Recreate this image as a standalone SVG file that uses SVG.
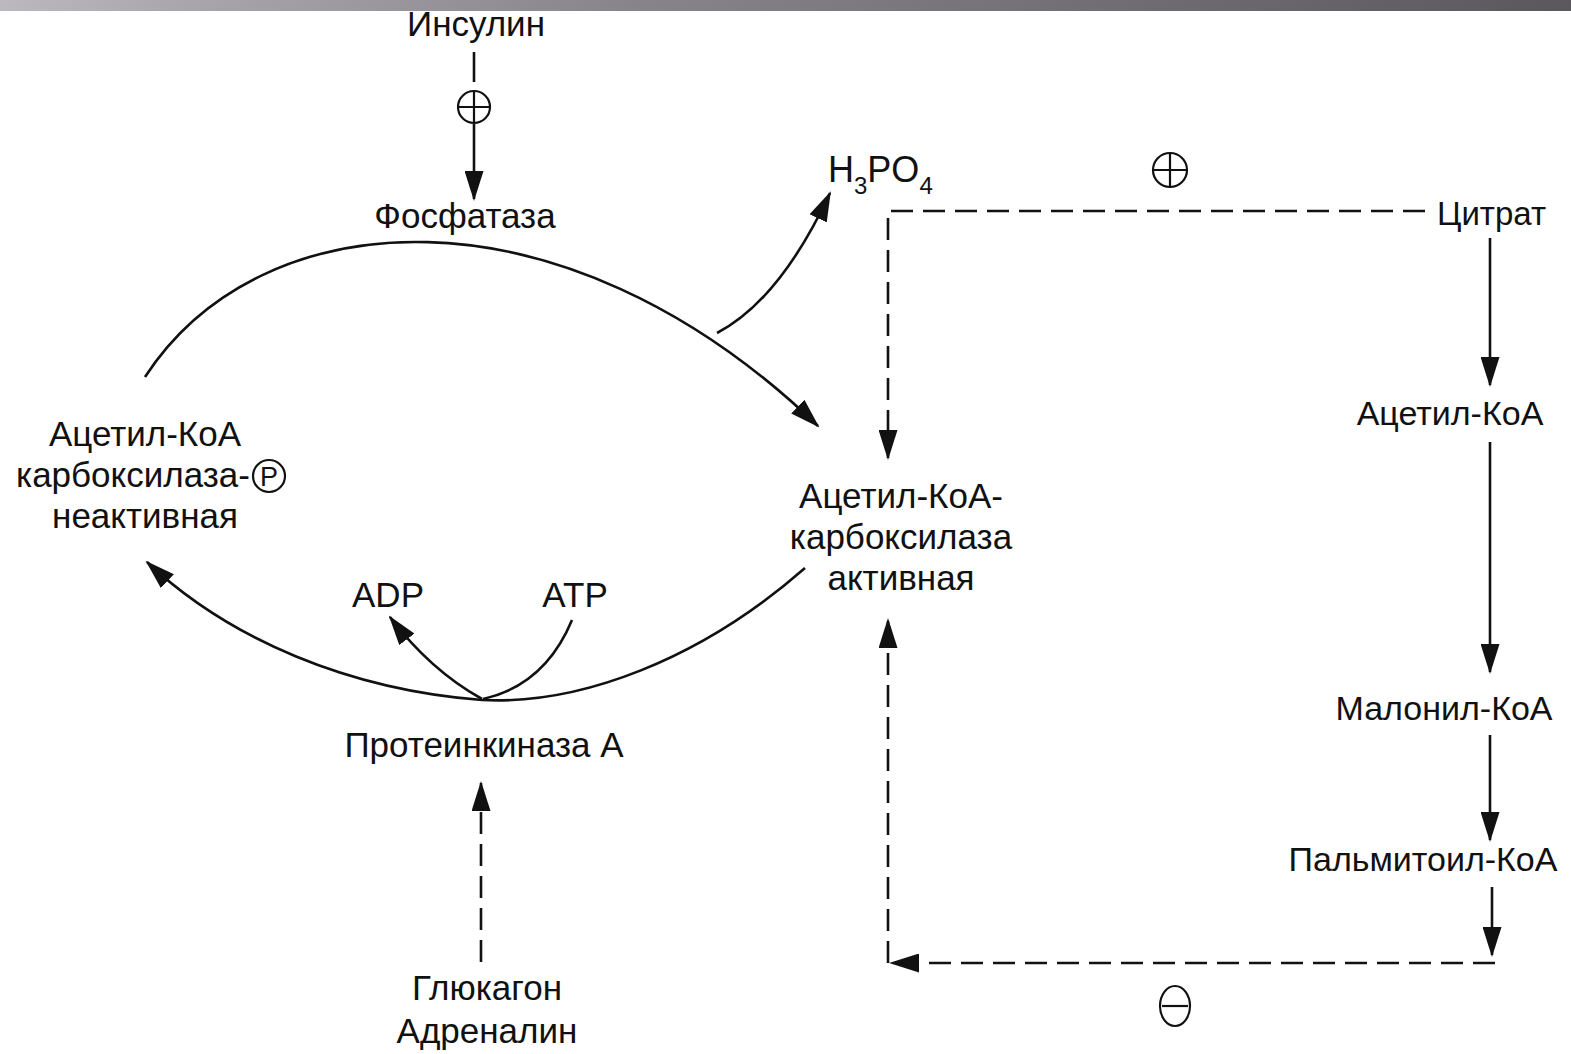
<svg xmlns="http://www.w3.org/2000/svg" width="1571" height="1054" viewBox="0 0 1571 1054">
<style>
.t{font-family:"Liberation Sans",Arial,sans-serif;font-size:35px;fill:#111;text-anchor:middle}
.r{font-size:34px}
.s{fill:none;stroke:#111;stroke-width:2.6}
.d{fill:none;stroke:#111;stroke-width:2.6;stroke-dasharray:22 10}
.c{fill:none;stroke:#111;stroke-width:2.2}
</style>
<defs>
<linearGradient id="bar" x1="0" y1="0" x2="1" y2="0">
<stop offset="0" stop-color="#bcb8c0"/>
<stop offset="0.12" stop-color="#a9a5ad"/>
<stop offset="0.4" stop-color="#88848c"/>
<stop offset="1" stop-color="#5a575d"/>
</linearGradient>
<marker id="ah" markerWidth="30" markerHeight="19" refX="28" refY="9.5" orient="auto" markerUnits="userSpaceOnUse">
<path d="M0,0 L30,9.5 L0,19 z" fill="#111"/>
</marker>
</defs>
<rect x="0" y="0" width="1571" height="1054" fill="#fff"/>
<rect x="0" y="0" width="1571" height="11" fill="url(#bar)"/>

<g id="insulin"><text class="t" x="476" y="36">Инсулин</text></g>
<g id="plus-insulin"><circle class="c" cx="474" cy="107" r="16"/><path class="c" d="M458,107 H490 M474,91 V123"/></g>
<g id="phosphatase"><text class="t" x="465" y="228">Фосфатаза</text></g>
<g id="h3po4"><text class="t" x="828" y="182" style="text-anchor:start;font-size:36px">H<tspan dy="12" font-size="24">3</tspan><tspan dy="-12">PO</tspan><tspan dy="12" font-size="24">4</tspan></text></g>
<g id="plus-citrate"><circle class="c" cx="1170" cy="170" r="17"/><path class="c" d="M1153,170 H1187 M1170,153 V187"/></g>
<g id="citrate"><text class="t" x="1437" y="225" style="text-anchor:start;font-size:33px">Цитрат</text></g>
<g id="acc-inactive">
<text class="t" x="145" y="446">Ацетил-КоА</text>
<text class="t" x="250" y="487" style="text-anchor:end">карбоксилаза-</text>
<circle class="c" cx="269" cy="476" r="16"/>
<text class="t" x="269" y="486" style="font-size:27px">P</text>
<text class="t" x="145" y="528">неактивная</text>
</g>
<g id="acc-active">
<text class="t" x="901" y="508">Ацетил-КоА-</text>
<text class="t" x="901" y="549">карбоксилаза</text>
<text class="t" x="901" y="590">активная</text>
</g>
<g id="adp"><text class="t" x="388" y="607">ADP</text></g>
<g id="atp"><text class="t" x="575" y="607">ATP</text></g>
<g id="pka"><text class="t" x="484" y="757">Протеинкиназа А</text></g>
<g id="glucagon"><text class="t" x="487" y="1000">Глюкагон</text><text class="t" x="487" y="1043">Адреналин</text></g>
<g id="acetyl-coa"><text class="t r" x="1450" y="425">Ацетил-КоА</text></g>
<g id="malonyl-coa"><text class="t r" x="1444" y="720">Малонил-КоА</text></g>
<g id="palmitoyl-coa"><text class="t r" x="1423" y="871">Пальмитоил-КоА</text></g>
<g id="minus"><ellipse class="c" cx="1175" cy="1006" rx="15" ry="20"/><path class="c" d="M1162,1006 H1188"/></g>

<g id="connectors">
<path class="s" d="M474,52 V82"/>
<path class="s" d="M474,124 V199" marker-end="url(#ah)"/>
<path class="s" d="M145,377 C260,200 560,178 818,426" marker-end="url(#ah)"/>
<path class="s" d="M717,333 Q780,300 830,193" marker-end="url(#ah)"/>
<path class="s" d="M805,568 C700,660 580,705 482,700 C350,690 230,640 147,562" marker-end="url(#ah)"/>
<path class="s" d="M482,699 Q430,670 390,617" marker-end="url(#ah)"/>
<path class="s" d="M572,620 Q545,685 483,699"/>
<path class="d" d="M1425,211 H888 V458" marker-end="url(#ah)"/>
<path class="s" d="M1490,238 V385" marker-end="url(#ah)"/>
<path class="s" d="M1490,442 V672" marker-end="url(#ah)"/>
<path class="s" d="M1490,735 V840" marker-end="url(#ah)"/>
<path class="s" d="M1492,887 V955" marker-end="url(#ah)"/>
<path class="d" d="M1495,963 H891" marker-end="url(#ah)"/>
<path class="d" d="M888,963 V620" marker-end="url(#ah)"/>
<path class="d" d="M481,962 V783" marker-end="url(#ah)"/>
</g>
</svg>
